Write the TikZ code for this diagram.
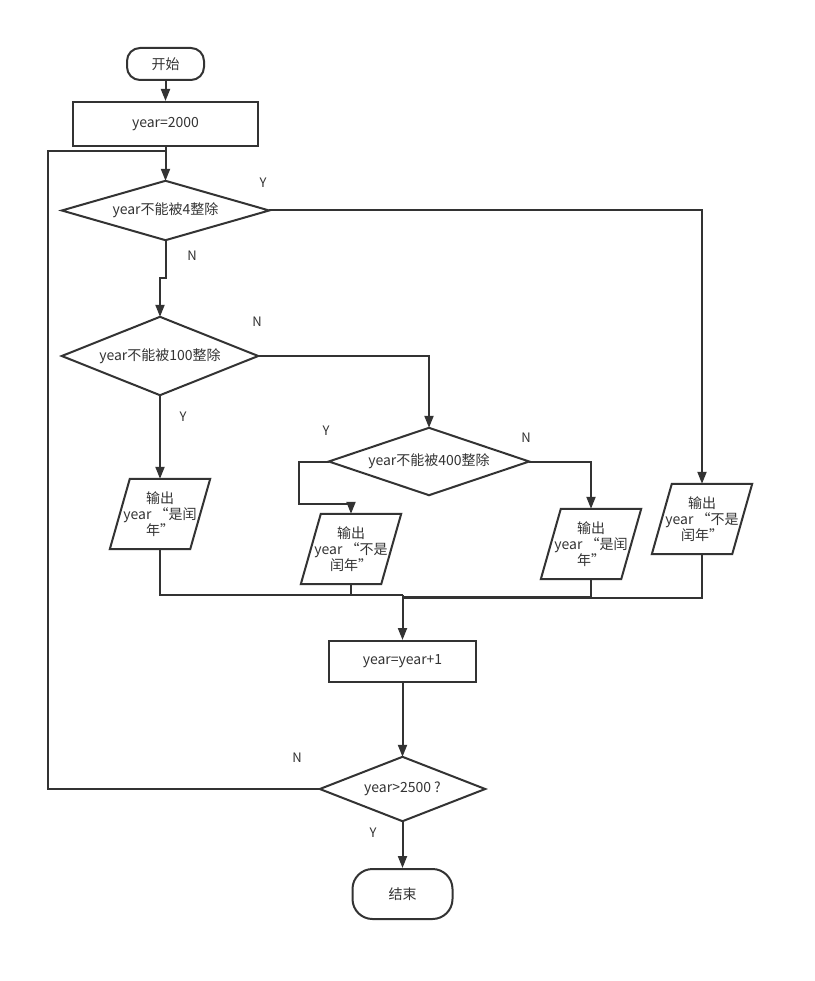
\documentclass[tikz,border=0pt]{standalone}
\usepackage{fontspec}
\setmainfont{Noto Sans CJK SC}
\usetikzlibrary{arrows.meta,calc}
\definecolor{ln}{HTML}{333333}
\begin{document}
\begin{tikzpicture}[x=1pt,y=-1pt,
  every node/.style={font=\fontsize{14}{16}\selectfont, text=ln},
  base/.style={draw=ln, line width=2pt},
  arr/.style={base, -{Triangle[length=12pt,width=9pt]}},
  term/.style={base, rectangle},
  proc/.style={base, rectangle},
  dec/.style={rectangle, inner sep=0pt},
  io/.style={rectangle, minimum width=100pt, minimum height=70pt, align=center, inner sep=0pt},
  lab/.style={font=\fontsize{13}{14}\selectfont}]
\useasboundingbox (0,0) rectangle (814,981);
\fill[white] (0,0) rectangle (814,981);

\node[term, rounded corners=13pt, minimum width=77, minimum height=32] (start) at (165.5,64) {开始};
\node[proc, minimum width=185, minimum height=44] (init) at (165.5,124) {year=2000};
\node[dec, minimum width=207, minimum height=59] (d1) at (165.5,210.5) {year不能被4整除};
\node[dec, minimum width=196, minimum height=78] (d2) at (160,356) {year不能被100整除};
\node[dec, minimum width=200, minimum height=67] (d3) at (429,461.5) {year不能被400整除};
\node[io] (p1) at (160,514) {输出\\year “是闰\\年”};
\node[io] (p2) at (351,549) {输出\\year “不是\\闰年”};
\node[io] (p3) at (591,544) {输出\\year “是闰\\年”};
\node[io] (p4) at (702,519) {输出\\year “不是\\闰年”};
\node[proc, minimum width=147, minimum height=41] (inc) at (402.5,661.5) {year=year+1};
\node[dec, minimum width=165, minimum height=64] (d4) at (402.5,789) {year>2500 ?};
\node[term, rounded corners=20pt, minimum width=100, minimum height=50] (end) at (402.5,894) {结束};

\foreach \p in {p1,p2,p3,p4}
  \draw[base, line join=miter] ($(\p.north west)+(20,0)$) -- (\p.north east) -- ($(\p.south east)+(-20,0)$) -- (\p.south west) -- cycle;
\foreach \d in {d1,d2,d3,d4}
  \draw[base, line join=miter] (\d.north) -- (\d.east) -- (\d.south) -- (\d.west) -- cycle;

\coordinate (lc) at (48,151);
\coordinate (m) at (402.5,595);
\coordinate (m3) at (402.5,596.5);
\coordinate (m4) at (402.5,598);

\draw[arr] (start) -- (init);
\draw[arr] (init) -- (d1.north);
\draw[arr] (d1.east) -| (p4.north);
\draw[arr] (d1.south) -- ++(0,38) -| (d2.north);
\draw[arr] (d2.east) -| (d3.north);
\draw[arr] (d2.south) -- (p1.north);
\draw[arr] (d3.west) -- ++(-30,0) -- ++(0,42) -| (p2.north);
\draw[arr] (d3.east) -| (p3.north);
\draw[base] (p1.south) |- (m);
\draw[base] (p2.south) |- (m);
\draw[base] (p3.south) |- (m3);
\draw[base] (p4.south) |- (m4);
\draw[arr] (m) -- (inc);
\draw[arr] (inc) -- (d4.north);
\draw[arr] (d4.south) -- (end);
\draw[base] (d4.west) -| (lc) -- (init.south |- lc);

\node[lab] (ly1) at (263,183) {Y};
\node[lab] (ln1) at (192,256) {N};
\node[lab] (ln2) at (257,322) {N};
\node[lab] (ly2) at (183,417) {Y};
\node[lab] (ly3) at (326,431) {Y};
\node[lab] (ln3) at (526,438) {N};
\node[lab] (ln4) at (297,758) {N};
\node[lab] (ly4) at (373,833) {Y};
\end{tikzpicture}
\end{document}
